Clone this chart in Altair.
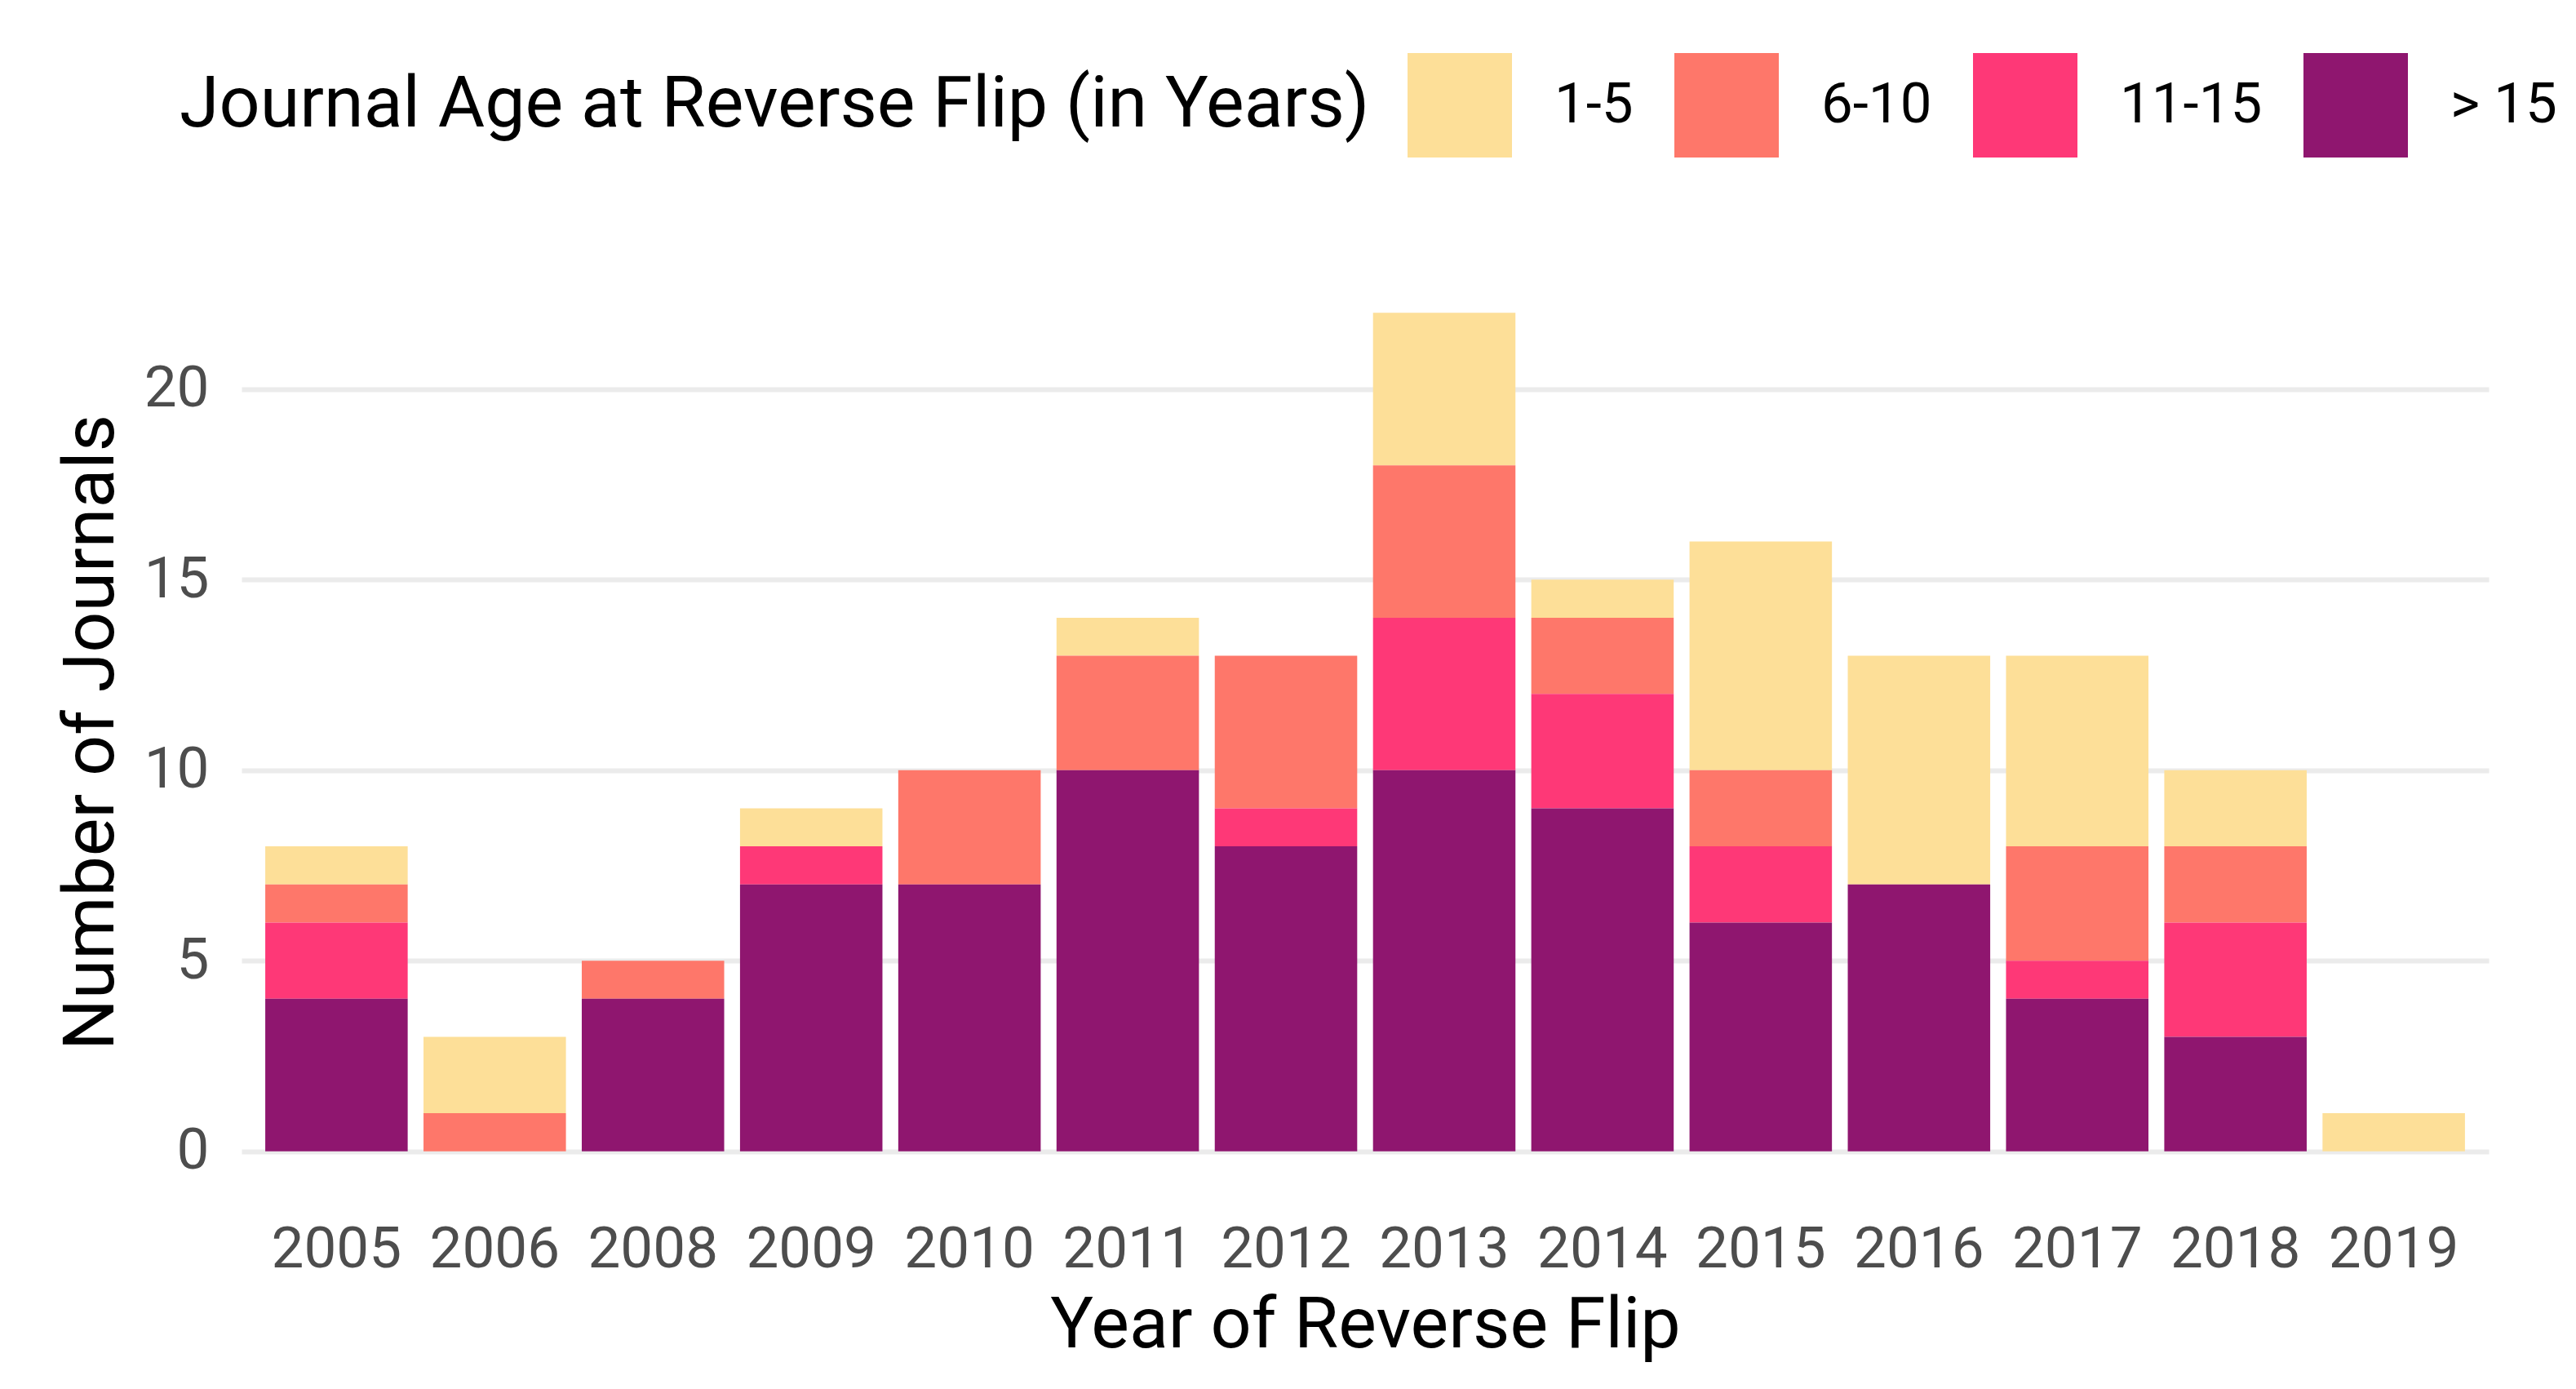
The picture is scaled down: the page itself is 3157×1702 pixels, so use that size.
import altair as alt
import pandas as pd

years = ["2005", "2006", "2008", "2009", "2010", "2011", "2012",
         "2013", "2014", "2015", "2016", "2017", "2018", "2019"]
age_groups = ["1-5", "6-10", "11-15", "> 15"]
colors = ["#FDDF98", "#FE776A", "#FE3877", "#8F166F"]

age_1_5 = [1, 2, 0, 1, 0, 1, 0, 4, 1, 6, 6, 5, 2, 1]
age_6_10 = [1, 1, 1, 0, 3, 3, 4, 4, 2, 2, 0, 3, 2, 0]
age_11_15 = [2, 0, 0, 1, 0, 0, 1, 4, 3, 2, 0, 1, 3, 0]
age_gt_15 = [4, 0, 4, 7, 7, 10, 8, 10, 9, 6, 7, 4, 3, 0]

series = {"1-5": age_1_5, "6-10": age_6_10, "11-15": age_11_15, "> 15": age_gt_15}
stack_rank = {"> 15": 0, "11-15": 1, "6-10": 2, "1-5": 3}

rows = []
for g, vals in series.items():
    for y, v in zip(years, vals):
        if v > 0:
            rows.append({"year": y, "group": g, "count": v, "rank": stack_rank[g]})
df = pd.DataFrame(rows)

chart = alt.Chart(df).mark_bar().encode(
    x=alt.X("year:N", sort=years, title="Year of Reverse Flip",
            scale=alt.Scale(paddingInner=0.1, paddingOuter=0.15),
            axis=alt.Axis(labelAngle=0, ticks=False, domain=False, grid=False,
                          labelFontSize=71, labelColor="#4D4D4D", labelPadding=34,
                          titleFontSize=88, titleColor="#000000", titlePadding=14,
                          titleFontWeight="normal")),
    y=alt.Y("count:Q", stack="zero", title="Number of Journals",
            scale=alt.Scale(domain=[-1.1, 23.1], nice=False, zero=False),
            axis=alt.Axis(values=[0, 5, 10, 15, 20], ticks=False, domain=False,
                          grid=True, gridColor="#EBEBEB", gridWidth=6,
                          labelFontSize=71, labelColor="#4D4D4D", labelPadding=40,
                          titleFontSize=88, titleColor="#000000", titlePadding=20,
                          titleFontWeight="normal")),
    color=alt.Color("group:N", title="Journal Age at Reverse Flip (in Years)",
                    scale=alt.Scale(domain=age_groups, range=colors),
                    legend=alt.Legend(orient="none", legendX=-76, legendY=-267,
                                      direction="horizontal", titleOrient="left",
                                      titleBaseline="middle",
                                      titleAnchor="middle",
                                      titleFontSize=88, titleFontWeight="normal",
                                      titleColor="#000000", titlePadding=46,
                                      titleLimit=3000,
                                      labelFontSize=69, labelColor="#000000",
                                      labelLimit=1000,
                                      labelOffset=52, columnPadding=50,
                                      symbolType="square", symbolSize=16384,
                                      symbolStrokeWidth=0, symbolOpacity=1)),
    order=alt.Order("rank:Q", sort="ascending"),
).properties(
    width=2754, height=1130,
    padding={"left": 60, "top": 57, "right": 0, "bottom": 12},
).configure(font="Roboto").configure_view(stroke=None)

chart.save("out.html", embed_options={"renderer": "svg", "actions": False})
